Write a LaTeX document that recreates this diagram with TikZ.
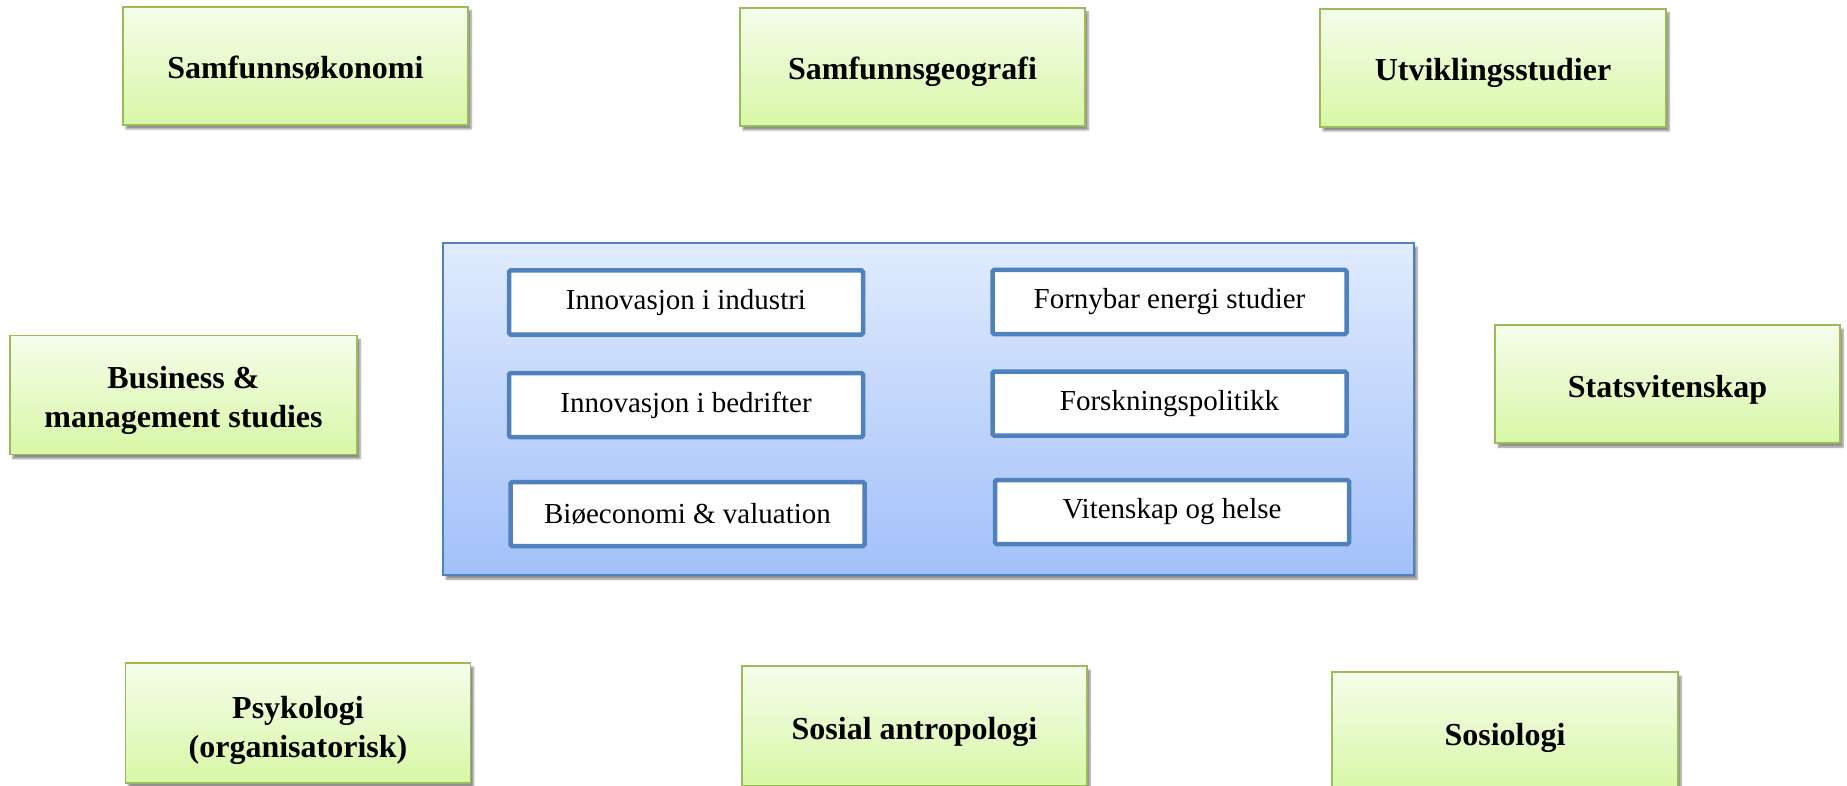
\documentclass[tikz,border=0pt]{standalone}
\usepackage{fontspec}
\setmainfont{Liberation Serif}
\usetikzlibrary{shadows.blur}
\definecolor{gtop}{HTML}{F5FDEB}
\definecolor{gbot}{HTML}{D8F7A6}
\definecolor{gborder}{HTML}{9BBB59}
\definecolor{btop}{HTML}{E0EBFD}
\definecolor{bbot}{HTML}{A2C0FA}
\definecolor{bborder}{HTML}{4F81BD}
\tikzset{
  field/.style={draw=gborder, line width=1.5pt, top color=gtop, bottom color=gbot,
    minimum width=345pt, minimum height=118pt, align=center, inner sep=0pt,
    font=\bfseries\fontsize{32}{39}\selectfont, text height=30pt, text depth=4pt,
    blur shadow={shadow xshift=3pt, shadow yshift=-4pt, shadow blur steps=6, shadow opacity=45}},
  fieldtwo/.style={field, text height=, text depth=},
  panel/.style={draw=bborder, line width=1.2pt, top color=btop, bottom color=bbot,
    minimum width=971pt, minimum height=332pt, inner sep=0pt,
    blur shadow={shadow xshift=3pt, shadow yshift=-4pt, shadow blur steps=6, shadow opacity=45}},
  topic/.style={draw=bborder, line width=4.5pt, fill=white, rounded corners=1.5pt,
    minimum width=354pt, minimum height=64pt, inner sep=0pt,
    font=\fontsize{29}{33}\selectfont}
}
\begin{document}
\begin{tikzpicture}[x=1pt,y=-1pt]
\useasboundingbox (0,0) rectangle (1847,786);
\clip (0,0) rectangle (1847,786);
% outer fields
\node[field] (samf) at (295.5,66) {Samfunnsøkonomi};
\node[field] (geo) at (912.5,67) {Samfunnsgeografi};
\node[field, minimum width=346pt] (utv) at (1493,68) {Utviklingsstudier};
\node[fieldtwo, minimum width=347pt, minimum height=119pt] (bus) at (183.5,395)
  {\raisebox{-5pt}[\height][\depth]{\begin{tabular}{@{}c@{}}Business \&\\management studies\end{tabular}}};
\node[field] (stat) at (1667.5,384) {Statsvitenskap};
\node[fieldtwo, minimum height=120pt] (psy) at (298,723)
  {\raisebox{-7pt}[\height][\depth]{\begin{tabular}{@{}c@{}}Psykologi\\(organisatorisk)\end{tabular}}};
\node[field, minimum height=120pt] (sant) at (914.5,726) {Sosial antropologi};
\node[field, minimum width=346pt, minimum height=120pt] (sosio) at (1505,732) {Sosiologi};
% central panel
\node[panel] (panel) at (928.5,409) {};
\node[topic] (i1) at (686,302.5) {Innovasjon i industri};
\node[topic] (f1) at (1169.5,302) {Fornybar energi studier};
\node[topic] (i2) at (686,405) {Innovasjon i bedrifter};
\node[topic] (f2) at (1169.5,403.5) {Forskningspolitikk};
\node[topic] (b3) at (687.5,514) {Biøeconomi \& valuation};
\node[topic] (v3) at (1172,512) {Vitenskap og helse};
\end{tikzpicture}
\end{document}
